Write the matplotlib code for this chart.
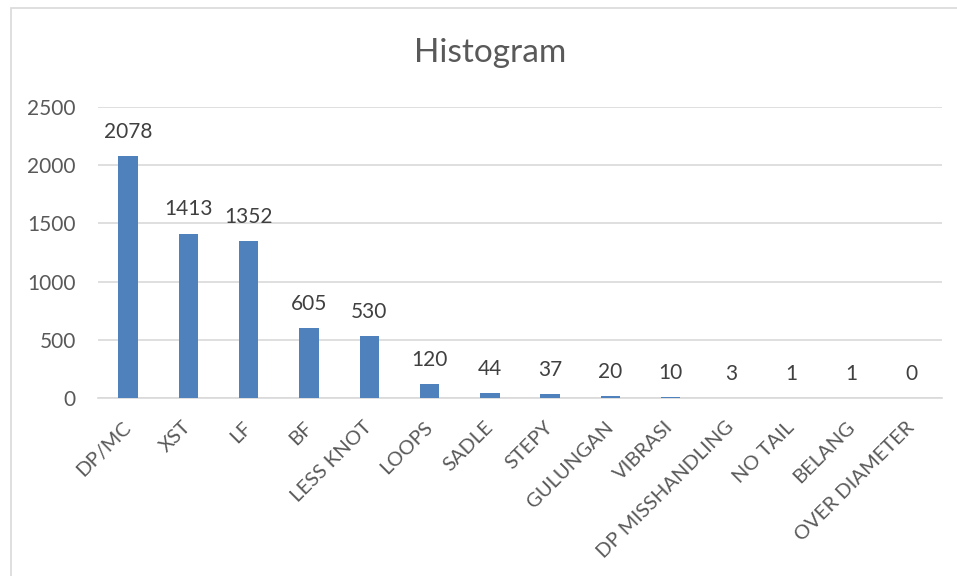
import matplotlib
matplotlib.use("Agg")
import matplotlib.pyplot as plt
from matplotlib.patches import Rectangle

plt.rcParams['font.family'] = ['Lato', 'DejaVu Sans']

categories = ['DP/MC', 'XST', 'LF', 'BF', 'LESS KNOT', 'LOOPS', 'SADLE', 'STEPY',
              'GULUNGAN', 'VIBRASI', 'DP MISSHANDLING', 'NO TAIL', 'BELANG', 'OVER DIAMETER']
counts = [2078, 1413, 1352, 605, 530, 120, 44, 37, 20, 10, 3, 1, 1, 0]
yticks = [0, 500, 1000, 1500, 2000, 2500]

text_col = '#595959'
grid_col = '#D9D9D9'
bar_col = '#4F81BD'

fig = plt.figure(figsize=(9.57, 5.76), dpi=100)

# chart frame (cut off at right and bottom like the screenshot)
fig.patches.append(Rectangle((11 / 957, -0.02), 1.2, 0.986 + 0.02,
                             transform=fig.transFigure, fill=False,
                             edgecolor=grid_col, linewidth=1.2))

ax = fig.add_axes([98 / 957, 1 - 398 / 576, (942 - 98) / 957, (398 - 107) / 576])

x = range(len(categories))
ax.bar(x, counts, width=0.32, color=bar_col, zorder=3)

for xi, v in zip(x, counts):
    ax.annotate(str(v), (xi, v), xytext=(0, 13), textcoords='offset points',
                ha='center', va='baseline', fontsize=15, color='#404040')

ax.set_xlim(-0.5, len(categories) - 0.5)
ax.set_ylim(0, 2500)
ax.set_yticks(yticks)
ax.set_yticklabels([str(t) for t in yticks], fontsize=15, color=text_col)
ax.yaxis.grid(True, color=grid_col, linewidth=1.2, zorder=0)
ax.tick_params(axis='both', length=0)
ax.tick_params(axis='y', pad=16)

ax.set_xticks(list(x))
ax.set_xticklabels(categories, rotation=45, ha='right', va='center',
                   rotation_mode='anchor', fontsize=14.5, color=text_col)
ax.tick_params(axis='x', pad=19)

for s in ['top', 'right', 'left']:
    ax.spines[s].set_visible(False)
ax.spines['bottom'].set_color(grid_col)
ax.spines['bottom'].set_linewidth(1.2)

fig.text(490 / 957, 1 - 53 / 576, 'Histogram', ha='center', va='center',
         fontsize=24, color=text_col)

fig.savefig('out.png', dpi=100)
